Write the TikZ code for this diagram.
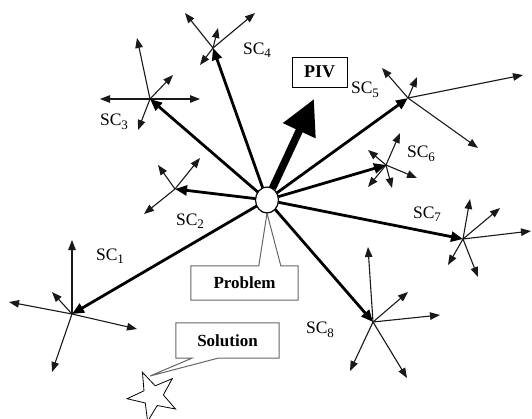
\documentclass[tikz,border=0pt]{standalone}
\usepackage{fontspec}
\setmainfont{Liberation Serif}
\usetikzlibrary{arrows.meta,shapes.geometric,shapes.symbols,calc}

\newcommand\sclab[1]{SC\raisebox{-0.2em}{\fontsize{13}{13}\selectfont #1}}

\tikzset{
  spoke/.style={line width=1.1pt, black!90, -{Triangle[length=10pt,width=7.5pt]}},
  mainarrow/.style={line width=2.8pt, -{Triangle[length=12pt,width=10pt]}},
  pivarrow/.style={line width=7.5pt, -{Triangle[length=35pt,width=34pt]}},
  sclabel/.style={font=\fontsize{17.5}{17.5}\selectfont, inner sep=0pt},
  outline/.style={draw=black!60, line width=1pt, fill=white, line join=miter},
  boxtext/.style={font=\fontsize{17}{17}\selectfont\bfseries, inner sep=0pt}
}

\begin{document}
\begin{tikzpicture}[x=1pt,y=-1pt]
\useasboundingbox (0,0) rectangle (532,418);

% hubs of the sub-components
\coordinate (h1) at (72,314);
\coordinate (h2) at (175,189);
\coordinate (h3) at (150,99);
\coordinate (h4) at (213,48);
\coordinate (h5) at (408,98);
\coordinate (h6) at (386,165);
\coordinate (h7) at (463,239);
\coordinate (h8) at (373,322);
\coordinate (pivtip) at (314,99);

% thin spokes around each hub
\foreach \x/\y [count=\i] in {72/240, 9/302, 52/292, 137/329, 52/372}
  {\coordinate (h1-\i) at (\x,\y); \draw[spoke] (h1) -- (h1-\i);}
\foreach \x/\y [count=\i] in {158/165, 200/158, 144/214}
  {\coordinate (h2-\i) at (\x,\y); \draw[spoke] (h2) -- (h2-\i);}
\foreach \x/\y [count=\i] in {100/99, 200/99, 137/38, 138/130, 173/75}
  {\coordinate (h3-\i) at (\x,\y); \draw[spoke] (h3) -- (h3-\i);}
\foreach \x/\y [count=\i] in {185/13, 255/13, 218/28, 200/65}
  {\coordinate (h4-\i) at (\x,\y); \draw[spoke] (h4) -- (h4-\i);}
\foreach \x/\y [count=\i] in {382/68, 417/77, 523/75, 478/148}
  {\coordinate (h5-\i) at (\x,\y); \draw[spoke] (h5) -- (h5-\i);}
\foreach \x/\y [count=\i] in {400/133, 368/150, 417/178, 368/187, 392/188}
  {\coordinate (h6-\i) at (\x,\y); \draw[spoke] (h6) -- (h6-\i);}
\foreach \x/\y [count=\i] in {470/199, 500/208, 531/231, 448/265, 478/277}
  {\coordinate (h7-\i) at (\x,\y); \draw[spoke] (h7) -- (h7-\i);}
\foreach \x/\y [count=\i] in {368/247, 408/292, 440/315, 350/371, 407/378}
  {\coordinate (h8-\i) at (\x,\y); \draw[spoke] (h8) -- (h8-\i);}

% the problem core
\node[ellipse, minimum width=23pt, minimum height=26pt, inner sep=0pt] (core) at (267,200) {};

% thick arrows to the sub-components
\foreach \h in {h1,h2,h3,h4,h5,h6,h7,h8}
  \draw[mainarrow] (core) -- (\h);
\draw[pivarrow] (core) -- (pivtip);

% Problem callout
\node[boxtext, minimum width=107pt, minimum height=34pt] (prob) at (244.5,283) {Problem};
\draw[outline] (prob.south west) -- (prob.north west)
  -- ($(prob.north west)+(68,0)$) -- (core.south)
  -- ($(prob.north west)+(90,0)$) -- (prob.north east)
  -- (prob.south east) -- cycle;
\node[boxtext] at (prob) {Problem};

% the core circle on top
\node[ellipse, draw, line width=1.2pt, fill=white, minimum width=23pt, minimum height=26pt, inner sep=0pt] at (core) {};

% star and Solution callout
\node[star, star points=5, star point ratio=2.5, minimum size=52pt, inner sep=0pt,
      draw, line width=0.8pt, rotate=24] (goal) at (153,396) {};
\coordinate (soltip) at (150,376);
\node[boxtext, minimum width=103pt, minimum height=35pt] (sol) at (227.5,340.5) {Solution};
\draw[outline] (sol.north west) -- (sol.north east) -- (sol.south east)
  -- ($(sol.south west)+(42,0)$) -- (soltip)
  -- ($(sol.south west)+(16,0)$) -- (sol.south west) -- cycle;
\node[boxtext] at (sol) {Solution};

% PIV box
\node[draw, line width=0.9pt, fill=white, minimum width=55pt, minimum height=30pt,
      inner sep=0pt, font=\fontsize{18}{18}\selectfont\bfseries] (piv) at (319.5,72) {PIV};

% sub-component labels
\node[sclabel] (l1) at (110,256) {\sclab{1}};
\node[sclabel] (l2) at (190,221) {\sclab{2}};
\node[sclabel] (l3) at (114,122) {\sclab{3}};
\node[sclabel] (l4) at (257,50)  {\sclab{4}};
\node[sclabel] (l5) at (365,90)  {\sclab{5}};
\node[sclabel] (l6) at (421,154) {\sclab{6}};
\node[sclabel] (l7) at (427,214) {\sclab{7}};
\node[sclabel] (l8) at (320,330) {\sclab{8}};
\end{tikzpicture}
\end{document}
